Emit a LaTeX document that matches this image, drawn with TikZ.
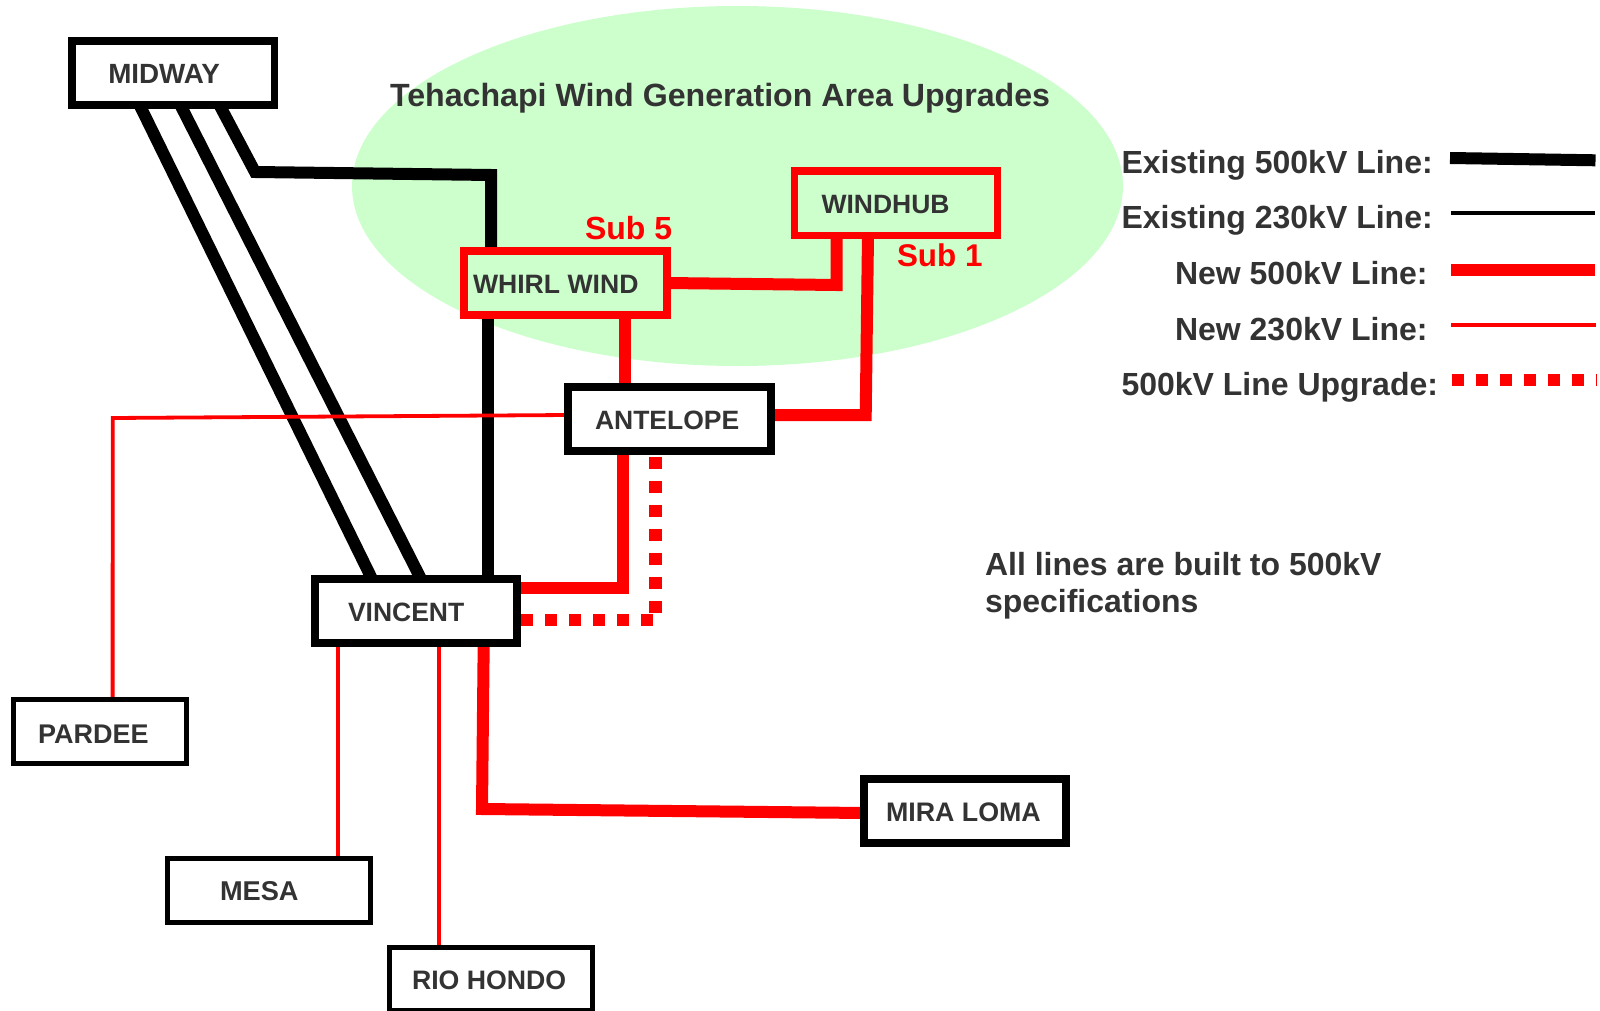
\documentclass[tikz,border=0pt]{standalone}
\usepackage{fontspec}
\setmainfont{Liberation Sans}
\usetikzlibrary{shapes.geometric,backgrounds}
\definecolor{area}{HTML}{CCFFCC}
\definecolor{ink}{HTML}{333333}
\newcommand{\lab}[4][1]{\raisebox{-#1pt}[19pt][0pt]{\makebox[#2pt][l]{\hspace*{#3pt}#4}}}
\tikzset{
  x=1pt,y=-1pt,
  labsize/.style={font=\fontsize{#1}{30}\selectfont\bfseries},
  station/.style={draw=black,line width=7.5pt,fill=white,inner sep=0pt,outer sep=0pt,
    minimum width=203pt,minimum height=64pt,labsize=26.5,text=ink},
  minor/.style={station,line width=5pt},
  newsub/.style={station,draw=red,fill=area},
  caption/.style={anchor=base west,inner sep=0pt,outer sep=0pt,font=\fontsize{32}{36}\selectfont\bfseries,text=ink},
  subcap/.style={caption,text=red},
  exist500/.style={draw=black,line width=12pt},
  exist230/.style={draw=black,line width=4pt},
  new500/.style={draw=red,line width=12pt},
  new230/.style={draw=red,line width=3.8pt},
  upgrade/.style={draw=red,line width=12.5pt,dash pattern=on 12pt off 12pt},
}
\begin{document}
\begin{tikzpicture}
\useasboundingbox (0,0) rectangle (1600,1011);
\clip (0,0) rectangle (1600,1011);

% stations
\node[station,minimum width=202.5pt,labsize=27.8] (midway) at (173.25,73) {\lab{202}{36}{MIDWAY}};
\node[newsub,labsize=26.6] (whirl) at (565.5,283) {\lab{203}{9}{WHIRL WIND}};
\node[newsub,minimum height=64.5pt] (windhub) at (896,203.25) {\lab[0.5]{203}{27}{WINDHUB}};
\node[station] (antelope) at (669.5,419) {\lab{203}{27}{ANTELOPE}};
\node[station,minimum width=202pt] (vincent) at (416,611) {\lab{202}{33}{VINCENT}};
\node[station,minimum width=202pt,labsize=26.8] (mira) at (965,811) {\lab{202}{22}{MIRA LOMA}};
\node[minor,minimum width=173pt,labsize=27] (pardee) at (99.6,731.5) {\lab[2]{173}{25}{PARDEE}};
\node[minor,labsize=27.2] (mesa) at (268.5,890) {\lab{203}{53}{MESA}};
\node[minor,minimum height=63pt,labsize=26.7] (rio) at (491,979) {\lab{203}{22.5}{RIO HONDO}};

% captions
\node[caption,labsize=32.15] (title) at (390,107) {Tehachapi Wind Generation Area Upgrades};
\node[subcap] (sub5) at (585,239) {Sub 5};
\node[subcap,labsize=31.4] (sub1) at (897,266) {Sub 1};
\node[caption] (note1) at (985,575) {All lines are built to 500kV};
\node[caption] (note2) at (985,612) {specifications};

% legend
\node[caption] (leg1) at (1121.5,173.5) {Existing 500kV Line:};
\node[caption] (leg2) at (1121.5,228.5) {Existing 230kV Line:};
\node[caption] (leg3) at (1175,284) {New 500kV Line:};
\node[caption] (leg4) at (1175,340) {New 230kV Line:};
\node[caption] (leg5) at (1121.5,395) {500kV Line Upgrade:};
\coordinate (l1a) at (1450,158);   \coordinate (l1b) at (1595.5,160.3);
\coordinate (l2a) at (1451,212.7); \coordinate (l2b) at (1594.7,212.7);
\coordinate (l3a) at (1451.3,270); \coordinate (l3b) at (1595,270);
\coordinate (l4a) at (1451,325);   \coordinate (l4b) at (1596,325);
\coordinate (l5a) at (1451.7,380); \coordinate (l5b) at (1596,380);

% bends
\coordinate (midbend1) at (255,172);
\coordinate (midbend2) at (491,175);
\coordinate (hubbend) at (836.7,285);
\coordinate (hubant) at (865.7,415);
\coordinate (pardbend) at (112.7,418);
\coordinate (antvin) at (623,588);
\coordinate (mirabend) at (482,809);

\begin{pgfonlayer}{background}
\node[ellipse,fill=area,inner sep=0pt,minimum width=771pt,minimum height=360pt] (areazone) at (737.5,186) {};

% existing 500 kV
\draw[exist500] ([xshift=-33.65pt]midway.south) -- ([xshift=-44pt]vincent.north);
\draw[exist500] ([xshift=7.15pt]midway.south) -- ([xshift=5pt]vincent.north);
\draw[exist500] ([xshift=46.25pt]midway.south) -- (midbend1) -- (midbend2) -- ([xshift=-74.5pt]whirl.north);
\draw[exist500] ([xshift=-77.5pt]whirl.south) -- ([xshift=72pt]vincent.north);

% new 500 kV
\draw[new500] (whirl.east) -- (hubbend) -- ([xshift=-59.3pt]windhub.south);
\draw[new500] ([xshift=-28pt]windhub.south) -- (hubant) -- ([yshift=4pt]antelope.east);
\draw[new500] ([xshift=59pt]whirl.south) -- ([xshift=-45pt]antelope.north);
\draw[new500] ([xshift=-46.5pt]antelope.south) -- (antvin) -- ([yshift=23pt]vincent.east);
\draw[new500] ([xshift=67.7pt]vincent.south) -- (mirabend) -- ([yshift=-2pt]mira.west);

% new 230 kV
\draw[new230] ([xshift=13pt]pardee.north) -- (pardbend) -- ([yshift=4pt]antelope.west);
\draw[new230] ([xshift=-78pt]vincent.south) -- ([xshift=69.5pt]mesa.north);
\draw[new230] ([xshift=23pt]vincent.south) -- ([xshift=-52pt]rio.north);

% 500 kV upgrade
\coordinate (upv) at ([xshift=-13.9pt]antelope.south);
\draw[upgrade,dash phase=18pt] (upv) -- ++(0,162);
\coordinate (uph) at ([yshift=-9pt]vincent.east);
\draw[upgrade,dash phase=20pt] (uph) -- ++(136,0);

% legend samples
\draw[exist500] (l1a) -- (l1b);
\draw[exist230] (l2a) -- (l2b);
\draw[new500] (l3a) -- (l3b);
\draw[new230,line width=4.5pt] (l4a) -- (l4b);
\draw[upgrade] (l5a) -- (l5b);
\end{pgfonlayer}
\end{tikzpicture}
\end{document}
